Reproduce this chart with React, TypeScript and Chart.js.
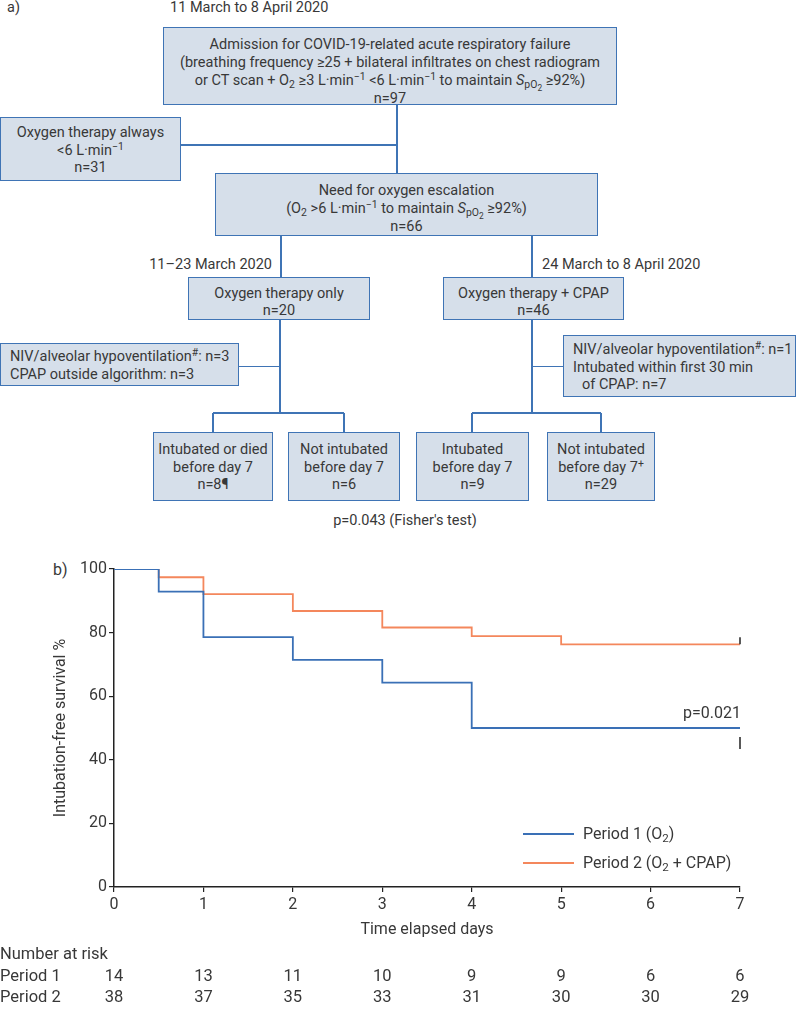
import React, { useEffect, useRef } from "react";
import { Chart, registerables } from "chart.js";
Chart.register(...registerables);

// ---------- data ----------
const days = [0, 1, 2, 3, 4, 5, 6, 7];
const yTicks = [0, 20, 40, 60, 80, 100];
const period1Times = [0, 0.5, 1, 2, 3, 4, 7];
const period1Survival = [100, 92.9, 78.6, 71.4, 64.3, 50, 50];
const period2Times = [0, 0.5, 1, 2, 3, 4, 5, 7];
const period2Survival = [100, 97.4, 92.1, 86.8, 81.6, 78.9, 76.3, 76.3];
const censorTime = [7];
const period1Censor = [50];
const period2Censor = [76.3];
const riskPeriod1 = [14, 13, 11, 10, 9, 9, 6, 6];
const riskPeriod2 = [38, 37, 35, 33, 31, 30, 30, 29];
const rowLabels = ["Period 1", "Period 2"];

const BLUE = "#3a70b6";
const ORANGE = "#f4875c";
const EDGE = "#3f74b5";
const FILL = "#d6dfea";
const TXT = "#383838";
const FONT = 'Roboto, "DejaVu Sans", sans-serif';
const FC = 14.5; // flowchart font size
const CF = 16; // chart font size
const RF = 16.5; // risk table font size

const subS: React.CSSProperties = { fontSize: "0.72em", verticalAlign: "-0.3em", lineHeight: 0 };
const supS: React.CSSProperties = { fontSize: "0.72em", verticalAlign: "0.5em", lineHeight: 0 };
const Sub = ({ children }: any) => <span style={subS}>{children}</span>;
const Sup = ({ children }: any) => <span style={supS}>{children}</span>;
const SpO2 = () => (
  <span>
    <i>S</i>
    <Sub>
      pO<span style={{ fontSize: "0.8em", verticalAlign: "-0.3em" }}>2</span>
    </Sub>
  </span>
);
const Lmin = () => (
  <span>
    L·min<Sup>−1</Sup>
  </span>
);

function Box({ l, t, w, h, lines, left = false, lh = 18, shift = 0 }: any) {
  return (
    <div
      style={{
        position: "absolute",
        left: l,
        top: t,
        width: w,
        height: h,
        boxSizing: "border-box",
        background: FILL,
        border: `1.5px solid ${EDGE}`,
        display: "flex",
        flexDirection: "column",
        justifyContent: "center",
        alignItems: left ? "flex-start" : "center",
        textAlign: left ? "left" : "center",
        paddingLeft: left ? 9 : 0,
        whiteSpace: "nowrap",
      }}
    >
      <div style={{ position: "relative", top: shift, display: "flex", flexDirection: "column", alignItems: left ? "flex-start" : "center" }}>
        {lines.map((ln: any, i: number) => (
          <div key={i} style={{ lineHeight: `${lh}px`, height: lh }}>
            {ln}
          </div>
        ))}
      </div>
    </div>
  );
}

const HL = ({ x1, x2, y }: any) => (
  <div style={{ position: "absolute", left: x1, top: y - 0.75, width: x2 - x1, height: 1.5, background: EDGE }} />
);
const VL = ({ x, y1, y2 }: any) => (
  <div style={{ position: "absolute", left: x - 0.75, top: y1, width: 1.5, height: y2 - y1, background: EDGE }} />
);
const Label = ({ x, y, children, align = "left", size = FC }: any) => (
  <div
    style={{
      position: "absolute",
      top: y - 10,
      lineHeight: "20px",
      height: 20,
      whiteSpace: "nowrap",
      fontSize: size,
      ...(align === "left"
        ? { left: x }
        : align === "right"
        ? { right: 796 - x }
        : { left: x - 200, width: 400, textAlign: "center" }),
    }}
  >
    {children}
  </div>
);

const CANVAS_TOP = 540;
const CANVAS_H = 476;

export default function App() {
  const ref = useRef<HTMLCanvasElement | null>(null);

  useEffect(() => {
    document.body.style.margin = "0";
    if (!ref.current) return;
    const tickFont = { family: FONT, size: CF };

    const extras = {
      id: "extras",
      afterDatasetsDraw(chart: any) {
        const { ctx, scales } = chart;
        const xs = scales.x;
        const ys = scales.y;
        ctx.save();
        ctx.strokeStyle = "#222";
        ctx.lineWidth = 1.5;
        censorTime.forEach((t, i) => {
          const px = xs.getPixelForValue(t);
          const p2 = ys.getPixelForValue(period2Censor[i]);
          ctx.beginPath();
          ctx.moveTo(px, p2);
          ctx.lineTo(px, p2 - 7);
          ctx.stroke();
          const p1 = ys.getPixelForValue(period1Censor[i]);
          ctx.beginPath();
          ctx.moveTo(px, p1 + 9);
          ctx.lineTo(px, p1 + 21);
          ctx.stroke();
        });
        ctx.restore();
      },
      afterDraw(chart: any) {
        const { ctx, scales } = chart;
        const xs = scales.x;
        ctx.save();
        ctx.font = `${RF}px ${FONT}`;
        ctx.fillStyle = TXT;
        ctx.textBaseline = "middle";
        ctx.textAlign = "left";
        ctx.fillText("Number at risk", 0, 955 - CANVAS_TOP);
        ctx.fillText(rowLabels[0], 0, 977 - CANVAS_TOP);
        ctx.fillText(rowLabels[1], 0, 998 - CANVAS_TOP);
        ctx.textAlign = "center";
        days.forEach((d, i) => {
          const px = xs.getPixelForValue(d);
          ctx.fillText(String(riskPeriod1[i]), px, 977 - CANVAS_TOP);
          ctx.fillText(String(riskPeriod2[i]), px, 998 - CANVAS_TOP);
        });
        ctx.restore();
      },
    };

    const chart = new Chart(ref.current, {
      type: "line",
      data: {
        datasets: [
          {
            label: "Period 1 (O2)",
            data: period1Times.map((t, i) => ({ x: t, y: period1Survival[i] })),
            borderColor: BLUE,
            borderWidth: 1.8,
            stepped: "before",
            pointRadius: 0,
            fill: false,
          },
          {
            label: "Period 2 (O2 + CPAP)",
            data: period2Times.map((t, i) => ({ x: t, y: period2Survival[i] })),
            borderColor: ORANGE,
            borderWidth: 1.8,
            stepped: "before",
            pointRadius: 0,
            fill: false,
          },
        ],
      },
      options: {
        animation: false,
        responsive: false,
        maintainAspectRatio: false,
        layout: { padding: { top: 29, right: 56, bottom: 76, left: 0 } },
        plugins: { legend: { display: false }, tooltip: { enabled: false } },
        scales: {
          x: {
            type: "linear",
            min: 0,
            max: 7,
            afterBuildTicks: (s: any) => {
              s.ticks = days.map((v) => ({ value: v }));
            },
            ticks: { font: tickFont, color: TXT, padding: 3 },
            grid: { drawOnChartArea: false, drawTicks: true, tickLength: 5, color: "#222", lineWidth: 1.2 },
            border: { display: true, color: "#222", width: 1.5 },
            title: {
              display: true,
              text: "Time elapsed days",
              font: tickFont,
              color: TXT,
              padding: { top: 0, bottom: 0 },
            },
            afterFit: (s: any) => {
              s.height = 53;
            },
          },
          y: {
            min: 0,
            max: 100,
            afterBuildTicks: (s: any) => {
              s.ticks = yTicks.map((v) => ({ value: v }));
            },
            ticks: { font: tickFont, color: TXT, padding: 2 },
            grid: { drawOnChartArea: false, drawTicks: true, tickLength: 5, color: "#222", lineWidth: 1.2 },
            border: { display: true, color: "#222", width: 1.5 },
            title: {
              display: true,
              text: "Intubation-free survival %",
              font: tickFont,
              color: TXT,
              padding: { top: 51, bottom: 0 },
            },
            afterFit: (s: any) => {
              s.width = 114;
            },
          },
        },
      },
      plugins: [extras],
    } as any);
    return () => chart.destroy();
  }, []);

  return (
    <div
      style={{
        position: "absolute",
        left: 0,
        top: 0,
        width: 796,
        height: 1016,
        background: "#fff",
        fontFamily: FONT,
        color: TXT,
        fontSize: FC,
        overflow: "hidden",
      }}
    >
      {/* ---------- a) flowchart ---------- */}
      <Label x={7} y={8}>a)</Label>
      <Label x={170} y={8}>11 March to 8 April 2020</Label>

      <VL x={397} y1={105} y2={173} />
      <HL x1={181} x2={397} y={145} />
      <VL x={281} y1={236} y2={277} />
      <VL x={532} y1={236} y2={277} />
      <VL x={280} y1={320} y2={413} />
      <HL x1={239} x2={280} y={366.5} />
      <VL x={532} y1={320} y2={413} />
      <HL x1={532} x2={563} y={366.5} />
      <HL x1={213} x2={344} y={413} />
      <VL x={213} y1={413} y2={432} />
      <VL x={344} y1={413} y2={432} />
      <HL x1={472} x2={601} y={413} />
      <VL x={472} y1={413} y2={432} />
      <VL x={601} y1={413} y2={432} />

      <Box
        l={163}
        t={27}
        w={454}
        h={78}
        shift={6}
        lines={[
          "Admission for COVID-19-related acute respiratory failure",
          "(breathing frequency ≥25 + bilateral infiltrates on chest radiogram",
          <span>
            or CT scan + O<Sub>2</Sub> ≥3 <Lmin /> &lt;6 <Lmin /> to maintain <SpO2 /> ≥92%)
          </span>,
          "n=97",
        ]}
      />
      <Box
        l={0}
        t={117}
        w={181}
        h={64}
        lh={17.5}
        shift={1.5}
        lines={[
          "Oxygen therapy always",
          <span>
            &lt;6 <Lmin />
          </span>,
          "n=31",
        ]}
      />
      <Box
        l={215}
        t={173}
        w={383}
        h={63}
        shift={4}
        lines={[
          "Need for oxygen escalation",
          <span>
            (O<Sub>2</Sub> &gt;6 <Lmin /> to maintain <SpO2 /> ≥92%)
          </span>,
          "n=66",
        ]}
      />
      <Label x={272} y={265} align="right">11–23 March 2020</Label>
      <Label x={542} y={265}>24 March to 8 April 2020</Label>
      <Box l={188} t={277} w={182} h={43} lh={17} shift={3} lines={["Oxygen therapy only", "n=20"]} />
      <Box l={443} t={277} w={181} h={43} lh={17} shift={3} lines={["Oxygen therapy + CPAP", "n=46"]} />
      <Box
        l={0}
        t={343}
        w={239}
        h={43}
        left
        shift={1.5}
        lines={[
          <span>
            NIV/alveolar hypoventilation<Sup>#</Sup>: n=3
          </span>,
          "CPAP outside algorithm: n=3",
        ]}
      />
      <Box
        l={563}
        t={335}
        w={233}
        h={62}
        left
        lh={17.5}
        shift={1.5}
        lines={[
          <span>
            NIV/alveolar hypoventilation<Sup>#</Sup>: n=1
          </span>,
          "Intubated within first 30 min",
          <span style={{ paddingLeft: 9 }}>of CPAP: n=7</span>,
        ]}
      />
      <Box l={153} t={432} w={120} h={69} lh={17.5} shift={1} lines={["Intubated or died", "before day 7", "n=8¶"]} />
      <Box l={288} t={432} w={112} h={69} lh={17.5} shift={1} lines={["Not intubated", "before day 7", "n=6"]} />
      <Box l={416} t={432} w={113} h={69} lh={17.5} shift={1} lines={["Intubated", "before day 7", "n=9"]} />
      <Box
        l={547}
        t={432}
        w={108}
        h={69}
        lh={17.5}
        shift={1}
        lines={[
          "Not intubated",
          <span>
            before day 7<Sup>+</Sup>
          </span>,
          "n=29",
        ]}
      />
      <Label x={405} y={521} align="center">p=0.043 (Fisher's test)</Label>

      {/* ---------- b) Kaplan-Meier ---------- */}
      <Label x={53} y={570} size={CF}>b)</Label>
      <div style={{ position: "absolute", left: 0, top: CANVAS_TOP, width: 796, height: CANVAS_H }}>
        <canvas ref={ref} width={796} height={CANVAS_H} style={{ width: 796, height: CANVAS_H, display: "block" }} />
      </div>
      <Label x={683} y={713} size={CF}>p=0.021</Label>
      <div style={{ position: "absolute", left: 523, top: 833, width: 51, height: 1.5, background: BLUE }} />
      <div style={{ position: "absolute", left: 523, top: 862, width: 51, height: 1.5, background: ORANGE }} />
      <Label x={583} y={834} size={CF}>
        Period 1 (O<Sub>2</Sub>)
      </Label>
      <Label x={583} y={863} size={CF}>
        Period 2 (O<Sub>2</Sub> + CPAP)
      </Label>
    </div>
  );
}
